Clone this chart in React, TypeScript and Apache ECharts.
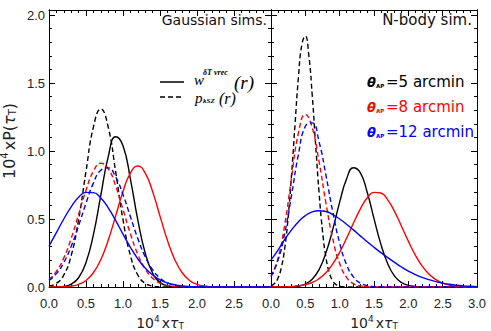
import React, { useEffect, useRef } from 'react';
import * as echarts from 'echarts';

// ---------- data ----------
const xs = [0, 0.1, 0.2, 0.3, 0.4, 0.5, 0.6, 0.7, 0.8, 0.9, 1.0, 1.1, 1.2, 1.3, 1.4, 1.5, 1.6, 1.7, 1.8, 1.9, 2.0, 2.1, 2.2, 2.3, 2.4, 2.5, 2.6, 2.7, 2.8, 2.9, 3.0];
const xsFine = [0, 0.05, 0.1, 0.15, 0.2, 0.25, 0.3, 0.35, 0.4, 0.45, 0.5, 0.55, 0.6, 0.65, 0.7, 0.75, 0.8, 0.85, 0.9, 0.95, 1.0, 1.05, 1.1, 3.0];

// Gaussian sims. panel
const gaussW5 = [0, 0.001, 0.005, 0.021, 0.068, 0.18, 0.385, 0.673, 0.957, 1.105, 1.039, 0.794, 0.494, 0.25, 0.103, 0.034, 0.009, 0.002, 0, 0, 0, 0, 0, 0, 0, 0, 0, 0, 0, 0, 0];
const gaussP5 = [0.007, 0.027, 0.088, 0.232, 0.495, 0.85, 1.176, 1.31, 1.176, 0.85, 0.495, 0.232, 0.088, 0.027, 0.007, 0.001, 0, 0, 0, 0, 0, 0, 0, 0, 0, 0, 0, 0, 0, 0, 0];
const gaussW8 = [0, 0.001, 0.002, 0.007, 0.02, 0.048, 0.105, 0.201, 0.344, 0.521, 0.702, 0.838, 0.89, 0.838, 0.702, 0.521, 0.344, 0.201, 0.105, 0.048, 0.02, 0.007, 0.002, 0.001, 0, 0, 0, 0, 0, 0, 0];
const gaussP8 = [0.055, 0.115, 0.214, 0.358, 0.533, 0.712, 0.851, 0.91, 0.87, 0.745, 0.57, 0.391, 0.24, 0.132, 0.065, 0.028, 0.011, 0.004, 0.001, 0, 0, 0, 0, 0, 0, 0, 0, 0, 0, 0, 0];
const gaussW12 = [0.30, 0.40, 0.50, 0.59, 0.66, 0.696, 0.694, 0.654, 0.582, 0.49, 0.389, 0.292, 0.207, 0.139, 0.088, 0.053, 0.03, 0.016, 0.008, 0.004, 0.002, 0.001, 0, 0, 0, 0, 0, 0, 0, 0, 0];
const gaussP12 = [0.049, 0.098, 0.18, 0.299, 0.451, 0.616, 0.764, 0.859, 0.876, 0.81, 0.68, 0.517, 0.357, 0.223, 0.127, 0.065, 0.03, 0.013, 0.005, 0.002, 0, 0, 0, 0, 0, 0, 0, 0, 0, 0, 0];

// N-body sim. panel
const nbodyW5 = [0, 0, 0, 0.002, 0.007, 0.022, 0.057, 0.128, 0.251, 0.424, 0.624, 0.794, 0.877, 0.841, 0.699, 0.503, 0.315, 0.171, 0.08, 0.033, 0.012, 0.004, 0.001, 0, 0, 0, 0, 0, 0, 0, 0];
const nbodyP5 = [0.009, 0.025, 0.063, 0.142, 0.285, 0.514, 0.829, 1.196, 1.545, 1.785, 1.846, 1.708, 1.414, 1.047, 0.694, 0.412, 0.218, 0.104, 0.044, 0.017, 0.006, 0.002, 0, 0];
const nbodyW8 = [0, 0, 0.001, 0.003, 0.008, 0.017, 0.033, 0.061, 0.105, 0.17, 0.255, 0.358, 0.469, 0.573, 0.654, 0.696, 0.691, 0.641, 0.554, 0.447, 0.337, 0.236, 0.155, 0.095, 0.054, 0.029, 0.014, 0.007, 0.003, 0.001, 0];
const nbodyP8 = [0.075, 0.207, 0.458, 0.807, 1.134, 1.27, 1.172, 0.922, 0.618, 0.353, 0.172, 0.071, 0.025, 0.008, 0.002, 0, 0, 0, 0, 0, 0, 0, 0, 0, 0, 0, 0, 0, 0, 0, 0];
const nbodyW12 = [0.20, 0.27, 0.35, 0.42, 0.48, 0.525, 0.552, 0.561, 0.555, 0.532, 0.50, 0.462, 0.42, 0.376, 0.333, 0.292, 0.253, 0.216, 0.181, 0.147, 0.117, 0.092, 0.071, 0.054, 0.04, 0.029, 0.02, 0.013, 0.008, 0.005, 0.003];
const nbodyP12 = [0.08, 0.194, 0.396, 0.678, 0.977, 1.182, 1.207, 1.067, 0.822, 0.552, 0.323, 0.165, 0.074, 0.029, 0.01, 0.003, 0.001, 0, 0, 0, 0, 0, 0, 0, 0, 0, 0, 0, 0, 0, 0];

const panelTitles = ['Gaussian sims.', 'N-body sim.'];
const apertures = [5, 8, 12];
const apertureColors = ['#000000', '#ff0000', '#0000ff'];

// ---------- layout ----------
const W = 491;
const H = 331;
const FONT_SANS = '"DejaVu Sans", sans-serif';
const FONT_TICK = '"Liberation Sans", Arial, sans-serif';
const FONT_SERIF = '"Liberation Serif", "DejaVu Serif", serif';
const Y_MAX = 2.037;

const pairs = (x: number[], y: number[]) => x.map((v, i) => [v, y[i]]);

const isHalf = (v: number) => Math.abs(v * 2 - Math.round(v * 2)) < 1e-6;

function xAx(gi: number, pos: string, labels: boolean, hideLast: boolean) {
  return {
    gridIndex: gi,
    type: 'value',
    position: pos,
    min: 0,
    max: 3,
    interval: 0.5,
    axisLine: { show: true, onZero: false, lineStyle: { color: '#000', width: 1 } },
    axisTick: { show: true, inside: true, length: 6, lineStyle: { color: '#000', width: 1 } },
    minorTick: { show: true, splitNumber: 5, length: 3, lineStyle: { color: '#000', width: 1 } },
    splitLine: { show: false },
    minorSplitLine: { show: false },
    axisLabel: labels
      ? {
          show: true,
          fontFamily: FONT_TICK,
          fontSize: 13,
          color: '#222',
          margin: 10,
          formatter: (v: number) => (hideLast && v > 2.99 ? '' : v.toFixed(1)),
        }
      : { show: false },
  };
}

function yAx(gi: number, pos: string, interval: number, len: number, labels: boolean) {
  return {
    gridIndex: gi,
    type: 'value',
    position: pos,
    min: 0,
    max: Y_MAX,
    interval,
    axisLine: { show: true, onZero: false, lineStyle: { color: '#000', width: 1 } },
    axisTick: { show: true, inside: true, length: len, lineStyle: { color: '#000', width: 1 } },
    splitLine: { show: false },
    axisLabel: labels
      ? {
          show: true,
          fontFamily: FONT_TICK,
          fontSize: 13,
          color: '#222',
          margin: 4,
          padding: [0, 0, 8, 0],
          formatter: (v: number) => (isHalf(v) ? v.toFixed(1) : ''),
        }
      : { show: false },
  };
}

function line(name: string, data: number[][], color: string, dashed: boolean, xi: number, yi: number) {
  return {
    name,
    type: 'line',
    xAxisIndex: xi,
    yAxisIndex: yi,
    data,
    smooth: 0.5,
    symbol: 'none',
    showSymbol: false,
    clip: true,
    silent: true,
    lineStyle: { color, width: 1.4, type: dashed ? [5, 3] : 'solid' },
    z: 3,
  };
}

function txt(text: string, x: number, y: number, font: string, fill = '#000', align = 'left') {
  return {
    type: 'text',
    x,
    y,
    silent: true,
    z: 10,
    style: { text, font, fill, align, verticalAlign: 'middle' },
  };
}

const richTitle = (main: number, small: number) => ({
  n: { fontFamily: FONT_SANS, fontSize: main, lineHeight: main + 2, verticalAlign: 'bottom', color: '#222' },
  s: { fontFamily: FONT_SANS, fontSize: small, lineHeight: small, verticalAlign: 'top', color: '#222', padding: [0, 2, 0, 0] },
  t: { fontFamily: FONT_SANS, fontSize: main, lineHeight: main + 2, verticalAlign: 'bottom', fontStyle: 'italic', color: '#222' },
  b: { fontFamily: FONT_SANS, fontSize: small, lineHeight: small, verticalAlign: 'bottom', color: '#222' },
});

export default function App() {
  const ref = useRef<HTMLDivElement>(null);

  useEffect(() => {
    if (!ref.current) return;
    const chart = echarts.init(ref.current, null, { renderer: 'svg' });

    const graphic: any[] = [];
    // panel titles
    graphic.push(txt(panelTitles[0], 267, 20, `14px ${FONT_SANS}`, '#111', 'right'));
    graphic.push(txt(panelTitles[1], 472, 20, `15px ${FONT_SANS}`, '#111', 'right'));

    // left legend: line samples + math labels
    graphic.push({ type: 'line', z: 10, silent: true, shape: { x1: 160, y1: 82, x2: 184, y2: 82 }, style: { stroke: '#000', lineWidth: 1.5 } });
    graphic.push({ type: 'line', z: 10, silent: true, shape: { x1: 160, y1: 97, x2: 184, y2: 97 }, style: { stroke: '#000', lineWidth: 1.5, lineDash: [5, 3] } });
    graphic.push(txt('w', 194, 80, `italic 15px ${FONT_SERIF}`));
    graphic.push(txt('δT vrec', 203, 72, `italic bold 8px ${FONT_SERIF}`));
    graphic.push(txt('(r)', 234, 82, `italic 19px ${FONT_SERIF}`));
    graphic.push(txt('p', 195, 98, `italic 15px ${FONT_SERIF}`));
    graphic.push(txt('kSZ', 203, 101, `italic bold 7px ${FONT_SERIF}`));
    graphic.push(txt('(r)', 219, 98, `italic 16px ${FONT_SERIF}`));

    // right legend: aperture labels
    const rowY = [82, 107, 132];
    apertures.forEach((a, i) => {
      const c = apertureColors[i];
      graphic.push(txt('θ', 367, rowY[i], `italic bold 13px ${FONT_SANS}`, c));
      graphic.push(txt('AP', 376, rowY[i] + 4, `bold 5.5px ${FONT_SANS}`, c));
      graphic.push(txt(`=${a} arcmin`, 386, rowY[i], `15px ${FONT_SANS}`, c));
    });

    // axis titles
    const xTitle = '{n|10}{s|4}{n|x}{t|τ}{b|T}';
    [160, 374].forEach((cx) => {
      graphic.push({
        type: 'text', x: cx, y: 322, silent: true, z: 10,
        style: { text: xTitle, rich: richTitle(14, 9), align: 'center', verticalAlign: 'middle', fill: '#222' },
      });
    });
    graphic.push({
      type: 'text', x: 8, y: 141, rotation: Math.PI / 2, silent: true, z: 10,
      style: { text: '{n|10}{s|4}{n|xP(}{t|τ}{b|T}{n|)}', rich: richTitle(16, 10), align: 'center', verticalAlign: 'middle', fill: '#222' },
    });

    const option: any = {
      animation: false,
      backgroundColor: '#ffffff',
      grid: [
        { left: 49, top: 10, width: 222, height: 277, containLabel: false },
        { left: 271, top: 10, width: 206, height: 277, containLabel: false },
      ],
      xAxis: [
        xAx(0, 'bottom', true, true),
        xAx(0, 'top', false, false),
        xAx(1, 'bottom', true, false),
        xAx(1, 'top', false, false),
      ],
      yAxis: [
        yAx(0, 'left', 0.5, 6, true),
        yAx(0, 'left', 0.1, 3, false),
        yAx(0, 'right', 0.5, 6, false),
        yAx(0, 'right', 0.1, 3, false),
        yAx(1, 'left', 0.5, 6, false),
        yAx(1, 'left', 0.1, 3, false),
        yAx(1, 'right', 0.5, 6, false),
        yAx(1, 'right', 0.1, 3, false),
      ],
      series: [
        line('g w 5', pairs(xs, gaussW5), '#000000', false, 0, 0),
        line('g p 5', pairs(xs, gaussP5), '#000000', true, 0, 0),
        line('g w 8', pairs(xs, gaussW8), '#ff0000', false, 0, 0),
        line('g p 8', pairs(xs, gaussP8), '#ff0000', true, 0, 0),
        line('g w 12', pairs(xs, gaussW12), '#0000ff', false, 0, 0),
        line('g p 12', pairs(xs, gaussP12), '#0000ff', true, 0, 0),
        line('n w 5', pairs(xs, nbodyW5), '#000000', false, 2, 4),
        line('n p 5', pairs(xsFine, nbodyP5), '#000000', true, 2, 4),
        line('n w 8', pairs(xs, nbodyW8), '#ff0000', false, 2, 4),
        line('n p 8', pairs(xs, nbodyP8), '#ff0000', true, 2, 4),
        line('n w 12', pairs(xs, nbodyW12), '#0000ff', false, 2, 4),
        line('n p 12', pairs(xs, nbodyP12), '#0000ff', true, 2, 4),
      ],
      graphic,
    };

    chart.setOption(option);
    return () => chart.dispose();
  }, []);

  return (
    <div
      ref={ref}
      style={{ position: 'fixed', left: 0, top: 0, width: W, height: H, background: '#fff' }}
    />
  );
}
